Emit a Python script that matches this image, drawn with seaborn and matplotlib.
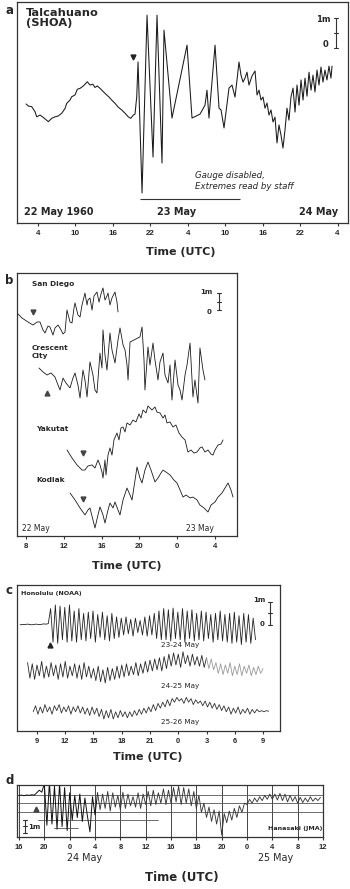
import numpy as np
import pandas as pd
import matplotlib
matplotlib.use("Agg")
import matplotlib.pyplot as plt
import seaborn as sns

# ------------------------------------------------------------------ data
# (a) Talcahuano (SHOA); hours since 22 May 1960 00 UTC, level in m
talc_hours = [2.08, 2.45, 2.99, 3.52, 3.79, 4.32, 4.85, 5.65, 6.20, 6.72,
              7.25, 7.80, 8.33, 8.60, 9.13, 9.40, 9.93, 10.30, 10.73, 11.26,
              11.90, 12.33, 12.77, 13.13, 13.50, 13.94, 14.46, 14.90, 15.43, 15.81,
              16.34, 16.87, 17.41, 17.94, 18.47, 18.86, 19.27, 19.54, 19.82,
              20.03, 20.67, 21.47, 22.43, 23.07, 23.87, 24.19, 25.47, 27.88, 28.68,
              29.96, 30.76, 31.08, 31.40, 32.37, 33.01, 33.33, 33.81, 34.61, 35.09,
              35.57, 35.89, 36.21, 36.53, 36.85, 37.17, 37.49, 37.81, 38.29, 38.78,
              39.10, 39.42, 39.74, 40.06, 40.38, 40.70, 41.02, 41.34, 41.66, 41.98,
              42.30, 42.62, 42.94, 43.26, 43.58, 43.90, 44.22, 44.54, 44.87, 45.19,
              45.51, 45.83, 46.15, 46.47, 46.79, 47.11, 47.43, 47.75, 48.07, 48.39,
              48.71, 49.03, 49.35, 49.67, 49.99, 50.31, 50.63, 50.95, 51.12]
talc_level = [3.97, 3.90, 3.88, 3.71, 3.54, 3.60, 3.52, 3.38, 3.49, 3.54,
              3.57, 3.66, 3.82, 3.99, 4.10, 4.21, 4.27, 4.46, 4.49, 4.57,
              4.71, 4.60, 4.63, 4.52, 4.57, 4.49, 4.38, 4.29, 4.19, 4.10,
              3.99, 3.86, 3.77, 3.66, 3.54, 3.49, 3.60, 3.63, 4.21,
              5.37, 1.00, 6.93, 2.20, 6.93, 2.00, 6.43, 3.50, 5.93, 3.50,
              3.63, 3.93, 4.43, 3.50, 5.93, 3.83, 3.77, 3.17, 4.50, 4.60,
              4.20, 4.77, 5.37, 4.93, 4.70, 4.83, 5.03, 4.60, 4.90, 5.07,
              4.27, 4.43, 4.10, 4.20, 3.83, 4.00, 3.60, 3.77, 3.37, 3.53,
              2.67, 3.27, 2.93, 2.50, 3.10, 3.83, 3.43, 4.20, 4.50, 3.70,
              4.60, 3.93, 4.77, 4.10, 4.83, 4.23, 5.03, 4.43, 4.93, 4.37,
              5.10, 4.60, 5.20, 4.70, 5.10, 4.77, 5.23, 4.83, 5.23]
talc_arrival = (19.22, 5.53)
talc_ticks = [4, 10, 16, 22, 28, 34, 40, 46, 52]
talc_ticklabels = ["4", "10", "16", "22", "4", "10", "16", "22", "4"]
talc_dates = ["22 May 1960", "23 May", "24 May"]

# (b) North-east Pacific gauges; hours since 22 May 00 UTC, level in m (stacked)
sd_hours = [7.05, 7.58, 8.21, 8.74, 9.17, 9.48, 9.80, 10.01, 10.33, 10.54,
            10.86, 11.07, 11.39, 11.71, 11.92, 12.13, 12.34, 12.66, 12.87, 13.08,
            13.19, 13.50, 13.72, 13.93, 14.24, 14.46, 14.56, 14.77, 14.99, 15.20,
            15.51, 15.73, 15.94, 16.15, 16.36, 16.57, 16.68, 16.89, 17.10, 17.42,
            17.63, 17.74]
sd_level = [13.12, 12.82, 12.59, 12.41, 12.59, 12.59, 12.12, 11.94, 12.35, 12.29,
            11.82, 12.24, 12.41, 12.12, 11.88, 12.00, 13.29, 12.59, 12.53, 13.41,
            13.71, 13.00, 12.88, 13.59, 14.29, 13.59, 13.88, 14.00, 13.29, 14.12,
            14.35, 13.76, 14.24, 14.59, 13.88, 14.12, 14.29, 13.59, 14.00, 14.35,
            13.76, 13.18]
cc_hours = [9.38, 9.80, 10.22, 10.65, 11.07, 11.39, 11.60, 11.92, 12.23, 12.66,
            12.97, 13.19, 13.50, 13.72, 14.03, 14.24, 14.46, 14.77, 15.09, 15.30,
            15.51, 15.83, 16.04, 16.15, 16.36, 16.57, 16.89, 17.10, 17.42, 17.74,
            17.95, 18.27, 18.48, 18.69, 18.80, 19.01, 20.06, 20.28, 20.49, 20.59,
            20.91, 21.12, 21.44, 21.65, 21.97, 22.18, 22.50, 22.71, 23.03, 23.24,
            23.45, 23.77, 24.09, 24.30, 24.51, 24.83, 25.04, 25.36, 25.67, 25.88,
            26.20, 26.41, 26.73, 26.94]
cc_level = [9.88, 9.65, 9.47, 9.59, 9.35, 8.88, 8.59, 9.29, 9.00, 8.71,
            9.29, 9.59, 8.88, 8.12, 9.76, 9.18, 8.18, 10.24, 9.47, 8.59,
            8.41, 10.76, 9.88, 12.12, 10.65, 9.76, 11.94, 10.94, 10.18, 11.53,
            12.24, 11.24, 10.94, 10.06, 9.18, 11.41, 11.71, 12.29, 10.35, 8.59,
            11.12, 10.06, 11.35, 10.35, 9.18, 10.24, 10.76, 9.47, 9.00, 10.06,
            8.00, 10.35, 8.88, 8.59, 8.00, 9.47, 10.06, 11.35, 8.18, 9.18,
            7.82, 11.06, 9.76, 9.18]
yak_hours = [12.34, 12.87, 13.40, 13.93, 14.24, 14.56, 14.99, 15.30, 15.62, 15.83,
             16.04, 16.15, 16.36, 16.47, 16.68, 16.89, 17.10, 17.31, 17.63, 17.84,
             18.05, 18.27, 18.48, 18.69, 19.01, 19.32, 19.64, 19.96, 20.17, 20.38,
             20.70, 20.91, 21.12, 21.33, 21.65, 21.86, 22.18, 22.50, 22.71, 22.92,
             23.24, 23.56, 23.87, 24.19, 24.51, 24.83, 25.14, 25.46, 25.78, 26.10,
             26.41, 26.63, 26.94, 27.26, 27.58, 27.79, 28.00, 28.32, 28.64, 28.85]
yak_level = [5.06, 4.59, 4.18, 3.88, 3.88, 4.12, 4.18, 4.00, 4.47, 4.18,
             3.76, 3.41, 4.47, 3.59, 4.76, 5.18, 4.76, 5.65, 6.06, 5.65,
             6.35, 6.41, 6.12, 6.65, 6.53, 6.82, 6.71, 7.18, 6.94, 7.41,
             7.24, 7.65, 7.53, 7.41, 7.59, 7.29, 7.24, 6.94, 7.12, 6.65,
             6.71, 6.41, 6.53, 6.06, 5.82, 5.65, 4.94, 5.06, 4.88, 4.94,
             5.18, 5.24, 4.94, 5.06, 4.82, 4.76, 5.06, 5.35, 5.41, 5.65]
kod_hours = [12.66, 13.19, 13.72, 14.24, 14.56, 14.77, 15.09, 15.30, 15.62, 15.83,
             16.15, 16.36, 16.68, 16.89, 17.21, 17.42, 17.74, 17.95, 18.27, 18.69,
             19.01, 19.22, 19.54, 19.75, 20.06, 20.28, 20.59, 20.91, 21.23, 21.65,
             21.97, 22.29, 22.50, 22.82, 23.24, 23.66, 23.98, 24.30, 24.62, 24.93,
             25.36, 25.67, 26.10, 26.41, 26.84, 27.26, 27.58, 28.00, 28.32, 28.74,
             29.06, 29.38, 29.69, 29.91]
kod_level = [2.53, 2.12, 1.65, 1.24, 1.53, 1.65, 0.94, 0.47, 1.24, 1.71,
             1.24, 0.76, 1.53, 1.94, 1.65, 2.00, 1.53, 1.24, 2.12, 2.82,
             2.41, 2.12, 3.29, 4.06, 3.41, 3.12, 3.88, 4.35, 3.88, 3.18,
             3.41, 3.71, 3.88, 3.76, 3.59, 3.29, 3.12, 2.71, 2.29, 2.41,
             2.24, 2.29, 2.12, 1.82, 1.65, 1.41, 1.82, 2.00, 2.29, 2.53,
             2.82, 3.12, 2.71, 2.29]
b_stations = ["San Diego", "Crescent\nCity", "Yakutat", "Kodiak"]
b_arrivals = [(8.74, 13.18, "v"), (10.22, 8.41, "^"), (14.03, 4.88, "v"), (14.03, 2.18, "v")]
b_ticks = [8, 12, 16, 20, 24, 28]
b_ticklabels = ["8", "12", "16", "20", "0", "4"]
b_dates = ["22 May", "23 May"]

# (c) Honolulu (NOAA); hours since 00 UTC of first day, sampled every 0.25 h
hon_step_h = 0.25
hon_2324_start = 7.2
hon_2324_level = [4.42, 4.44, 4.43, 4.45, 4.44, 4.42, 4.44, 4.45, 4.43, 4.44, 4.46, 4.45, 4.47,
                  5.1, 3.7, 5.25, 3.65, 5.2, 3.8, 5.15, 3.7, 5.25, 3.75, 5.0, 3.7, 5.1, 3.8,
                  4.9, 3.75, 4.95, 3.85, 5.0, 3.7, 4.85, 3.9, 4.95, 3.8, 4.8, 3.75, 4.9, 3.85, 4.75, 3.9,
                  4.7, 4.0, 4.75, 4.05, 4.65, 3.95, 4.7, 4.1, 4.6, 4.0, 4.75, 3.95, 4.8, 4.0, 4.9, 3.85, 5.0, 3.8,
                  5.1, 3.8, 5.05, 3.75, 5.12, 3.85, 4.95, 3.8, 5.1, 3.7, 5.0, 3.85, 5.05, 3.75, 4.9, 3.8,
                  5.0, 3.75, 4.95, 3.85, 4.85, 3.7, 4.9, 3.8, 5.0, 3.75, 4.85, 3.7,
                  4.9, 3.65, 4.95, 3.7, 4.8, 3.6, 4.9, 3.7, 4.85, 3.65, 4.7, 3.8]
hon_2425_start = 8.0
hon_2425_level = [2.85, 2.2, 2.8, 2.15, 2.75, 2.3, 2.9, 2.2, 2.7, 2.25, 2.85, 2.3, 2.75, 2.15, 2.8, 2.25, 2.9, 2.2, 2.7, 2.3,
                  2.8, 2.2, 2.75, 2.15, 2.85, 2.25, 2.7, 2.2, 2.6, 2.1, 2.7, 2.05, 2.55, 2.0, 2.65, 2.1, 2.6, 2.15, 2.7, 2.2,
                  2.75, 2.25, 2.8, 2.3, 2.7, 2.35, 2.85, 2.3, 2.8, 2.4, 2.9, 2.45, 2.95, 2.5, 3.0, 2.55, 3.05, 2.5, 3.1, 2.6,
                  3.2, 2.7, 3.25, 2.75, 3.2, 2.65, 3.3, 2.8, 3.15, 2.7, 3.2, 2.75, 3.1, 2.7, 3.15, 2.65, 3.05, 2.6, 3.0, 2.55,
                  2.85, 2.4, 2.8, 2.35, 2.75, 2.4, 2.85, 2.3, 2.7, 2.35, 2.8, 2.3, 2.7, 2.4, 2.75, 2.3, 2.65, 2.35, 2.7, 2.4, 2.6]
hon_2526_start = 8.6
hon_2526_level = [0.8, 1.05, 0.7, 1.0, 0.75, 1.1, 0.8, 1.0, 0.7, 1.05, 0.85, 1.1, 0.75, 1.0, 0.8, 1.05, 0.7, 1.0, 0.8, 1.05,
                  0.75, 1.0, 0.7, 0.95, 0.65, 1.0, 0.7, 0.95, 0.6, 0.9, 0.5, 0.85, 0.55, 0.9, 0.5, 0.8, 0.55, 0.85, 0.6, 0.8,
                  0.55, 0.8, 0.6, 0.85, 0.65, 0.9, 0.7, 0.95, 0.75, 1.0, 0.8, 1.1, 0.85, 1.15, 0.95, 1.2, 1.0, 1.3, 1.05, 1.35,
                  1.2, 1.4, 1.25, 1.35, 1.15, 1.4, 1.2, 1.35, 1.1, 1.3, 1.15, 1.25, 1.05, 1.25, 1.0, 1.2, 0.95, 1.15, 0.9, 1.1,
                  0.85, 1.05, 0.8, 1.0, 0.7, 0.95, 0.75, 1.0, 0.7, 0.9, 0.75, 0.95, 0.7, 0.9, 0.75, 0.9, 0.8, 0.85, 0.8, 0.85, 0.82]
hon_days = ["23-24 May", "24-25 May", "25-26 May"]
hon_arrival = (10.38, 3.58)
c_ticks = [9, 12, 15, 18, 21, 24, 27, 30, 33]
c_ticklabels = ["9", "12", "15", "18", "21", "0", "3", "6", "9"]

# (d) Hanasaki (JMA); hours since first tick, sampled every 0.4 h
hana_start = 0.0
hana_step_h = 0.4
hana_level = [3.2, 3.22, 3.18, 3.23, 3.2, 3.25, 3.22,
              3.4, 3.6, 3.45,
              4.1, 0.9, 4.2, 1.0, 3.9, 0.6, 4.1, 0.8, 3.8, 0.5,
              3.4, 1.3, 3.2, 1.5, 3.3, 1.2, 3.0, 1.6, 0.4, 3.1, 1.7,
              3.4, 2.1, 3.3, 2.2, 3.5, 2.0, 3.4, 2.3, 3.2, 2.1, 3.45, 2.2, 3.3, 2.4, 3.1, 2.3, 3.4, 2.2, 3.3,
              2.5, 3.5, 2.4, 3.6, 2.5, 3.4, 2.6, 3.7, 2.5, 3.6,
              2.6, 3.8, 2.7, 3.9, 2.5, 3.8, 2.6, 3.7, 2.4, 3.5, 2.2, 3.2,
              1.9, 2.6, 1.5, 2.3, 1.2, 2.1, 1.0, 2.0, 0.15, 1.8, 1.1, 2.0, 1.3, 2.2, 1.5, 2.4, 1.9, 2.6,
              2.5, 2.9, 2.6, 3.0, 2.7, 3.1, 2.8, 3.2, 2.9, 3.3, 2.9, 3.3, 2.85, 3.35, 2.8, 3.3, 2.7, 3.2,
              2.75, 3.1, 2.6, 3.05, 2.65, 3.0, 2.7, 3.1, 2.75, 3.0, 2.8, 3.05]
hana_arrival = (2.7, 2.15)
d_ticks = [0, 4, 8, 12, 16, 20, 24, 28, 32, 36, 40, 44, 48]
d_ticklabels = ["16", "20", "0", "4", "8", "12", "16", "18", "20", "0", "4", "8", "12"]
d_grid_levels = [3.23, 2.62, 1.92]
d_dates = ["24 May", "25 May"]

# ------------------------------------------------------------------ style
sns.set_style("white")
plt.rcParams["font.family"] = ["DejaVu Sans"]
W, H = 350, 889
fig = plt.figure(figsize=(W / 100, H / 100), dpi=100)
INK = "#1a1a1a"


def px_axes(l, t, r, b):
    return fig.add_axes([l / W, 1 - b / H, (r - l) / W, (b - t) / H])


def style_axes(ax, ticks, labels, size=5.4, pad=2.5):
    ax.set_yticks([])
    ax.set_xticks(ticks)
    ax.set_xticklabels(labels, fontweight="bold", fontsize=size,
                       fontfamily="Liberation Sans")
    ax.tick_params(axis="x", direction="out", length=2.5, width=0.8,
                   pad=pad, color="#333333", bottom=True)
    for s in ax.spines.values():
        s.set_color("#333333")
        s.set_linewidth(0.9)
    ax.set_xlabel("")
    ax.set_ylabel("")


def scale_bar(ax, x, lo, hi, cap, lw=0.8):
    ax.plot([x, x], [lo, hi], color="#333333", lw=lw)
    ax.plot([x - cap, x + cap], [hi, hi], color="#333333", lw=lw)
    ax.plot([x - cap, x + cap], [lo, lo], color="#333333", lw=lw)
    ax.plot([x - cap, x + cap], [(lo + hi) / 2] * 2, color="#333333", lw=lw)


def trace(ax, x, y, color=INK, lw=0.7):
    df = pd.DataFrame({"t": x, "z": y})
    sns.lineplot(data=df, x="t", y="z", ax=ax, color=color, lw=lw,
                 estimator=None, sort=False)


# ------------------------------------------------------------------ (a)
axa = px_axes(17, 2, 348, 223)
trace(axa, talc_hours, talc_level, lw=0.75)
axa.set_xlim(0.63, 53.68)
axa.set_ylim(0, 7.37)
style_axes(axa, talc_ticks, talc_ticklabels, size=5.8, pad=2.5)
axa.plot(*talc_arrival, marker="v", ms=3.5, color="#222222")
axa.hlines(0.8, 20.35, 36.37, color="#333333", lw=0.8)
axa.text(0.027, 0.975, "Talcahuano\n(SHOA)", transform=axa.transAxes, ha="left",
         va="top", fontsize=8.2, fontweight="bold", linespacing=1.05)
axa.text(0.538, 0.19, "Gauge disabled,\nExtremes read by staff",
         transform=axa.transAxes, ha="left", va="center", fontsize=6.2,
         style="italic", linespacing=1.15)
axa.text(0.021, 0.05, talc_dates[0], transform=axa.transAxes, ha="left",
         va="center", fontsize=7, fontweight="bold")
axa.text(0.423, 0.05, talc_dates[1], transform=axa.transAxes, ha="left",
         va="center", fontsize=7, fontweight="bold")
axa.text(0.97, 0.05, talc_dates[2], transform=axa.transAxes, ha="right",
         va="center", fontsize=7, fontweight="bold")
scale_bar(axa, 51.76, 5.83, 6.83, 0.35)
axa.text(50.9, 6.78, "1m", ha="right", va="center", fontsize=6, fontweight="bold")
axa.text(50.5, 5.95, "0", ha="right", va="center", fontsize=6, fontweight="bold")

# ------------------------------------------------------------------ (b)
axb = px_axes(17, 273, 237, 536)
for xs, ys in [(sd_hours, sd_level), (cc_hours, cc_level),
               (yak_hours, yak_level), (kod_hours, kod_level)]:
    trace(axb, xs, ys, lw=0.6)
axb.set_xlim(7.05, 30.33)
axb.set_ylim(0, 15.47)
style_axes(axb, b_ticks, b_ticklabels, size=5.6, pad=2.5)
for (hx, hy, mk) in b_arrivals:
    axb.plot(hx, hy, marker=mk, ms=3.5, color="#444444")
for name, fx, fy in zip(b_stations, [0.068, 0.068, 0.086, 0.086],
                        [0.958, 0.70, 0.407, 0.213]):
    axb.text(fx, fy, name, transform=axb.transAxes, ha="left", va="center",
             fontsize=5.3, fontweight="bold", linespacing=1.3)
axb.text(0.023, 0.03, b_dates[0], transform=axb.transAxes, ha="left",
         va="center", fontsize=5.5)
axb.text(0.768, 0.03, b_dates[1], transform=axb.transAxes, ha="left",
         va="center", fontsize=5.5)
scale_bar(axb, 28.42, 13.29, 14.29, 0.25)
axb.text(27.75, 14.35, "1m", ha="right", va="center", fontsize=5, fontweight="bold")
axb.text(27.6, 13.2, "0", ha="right", va="center", fontsize=5, fontweight="bold")

# ------------------------------------------------------------------ (c)
axc = px_axes(17, 585, 280, 731)
t2324 = hon_2324_start + hon_step_h * np.arange(len(hon_2324_level))
t2425 = hon_2425_start + hon_step_h * np.arange(len(hon_2425_level))
t2526 = hon_2526_start + hon_step_h * np.arange(len(hon_2526_level))
trace(axc, t2324, hon_2324_level, color="#222222", lw=0.6)
trace(axc, t2425[:77], hon_2425_level[:77], color="#2a2a2a", lw=0.6)
trace(axc, t2425[76:], hon_2425_level[76:], color="#9a9a9a", lw=0.6)
trace(axc, t2526, hon_2526_level, color="#333333", lw=0.6)
axc.set_xlim(6.88, 34.80)
axc.set_ylim(0, 6.08)
style_axes(axc, c_ticks, c_ticklabels, size=5.4, pad=2.5)
axc.plot(*hon_arrival, marker="^", ms=3.5, color="#222222")
axc.text(0.015, 0.945, "Honolulu (NOAA)", transform=axc.transAxes, ha="left",
         va="center", fontsize=4.6, fontweight="bold")
for lab, fy in zip(hon_days, [0.589, 0.308, 0.062]):
    axc.text(0.62, fy, lab, transform=axc.transAxes, ha="center", va="center",
             fontsize=5.2)
scale_bar(axc, 33.74, 4.42, 5.39, 0.22)
axc.text(33.3, 5.44, "1m", ha="right", va="center", fontsize=5, fontweight="bold")
axc.text(33.2, 4.45, "0", ha="right", va="center", fontsize=5, fontweight="bold")

# ------------------------------------------------------------------ (d)
axd = px_axes(17, 785, 323, 837)
th = hana_start + hana_step_h * np.arange(len(hana_level))
for t in d_ticks:
    axd.axvline(t, color="#444444", lw=0.7)
for g in d_grid_levels:
    axd.axhline(g, color="#555555", lw=0.6)
axd.axhline(1.31, xmin=0.07, xmax=0.46, color="#555555", lw=0.6)
axd.axhline(0.69, xmin=0.12, xmax=0.2, color="#555555", lw=0.6)
trace(axd, th[:32], hana_level[:32], color="#111111", lw=0.7)
trace(axd, th[31:], hana_level[31:], color="#3a3a3a", lw=0.65)
axd.set_xlim(-0.32, 48.0)
axd.set_ylim(0, 4.0)
style_axes(axd, d_ticks, d_ticklabels, size=5.4, pad=2.5)
axd.plot(*hana_arrival, marker="^", ms=3.5, color="#444444")
scale_bar(axd, 0.95, 0.31, 1.31, 0.3)
axd.text(1.4, 0.77, "1m", ha="left", va="center", fontsize=5, fontweight="bold")
axd.text(0.997, 0.154, "Hanasaki (JMA)", transform=axd.transAxes, ha="right",
         va="center", fontsize=4.6, fontweight="bold")

# ------------------------------------------------------------------ figure text
for lab, y in zip("abcd", [10, 280, 591, 781]):
    fig.text(5 / W, 1 - y / H, lab, ha="left", va="center", fontsize=8.5,
             fontweight="bold")
for x, y, s in [(181, 252, 8), (127, 566, 8), (148, 757, 8), (182, 878, 8.5)]:
    fig.text(x / W, 1 - y / H, "Time (UTC)", ha="center", va="center",
             fontsize=s, fontweight="bold")
fig.text(85 / W, 1 - 858 / H, d_dates[0], ha="center", va="center", fontsize=6.9)
fig.text(276 / W, 1 - 858 / H, d_dates[1], ha="center", va="center", fontsize=6.9)

fig.savefig("out.png", dpi=100, facecolor="white")
